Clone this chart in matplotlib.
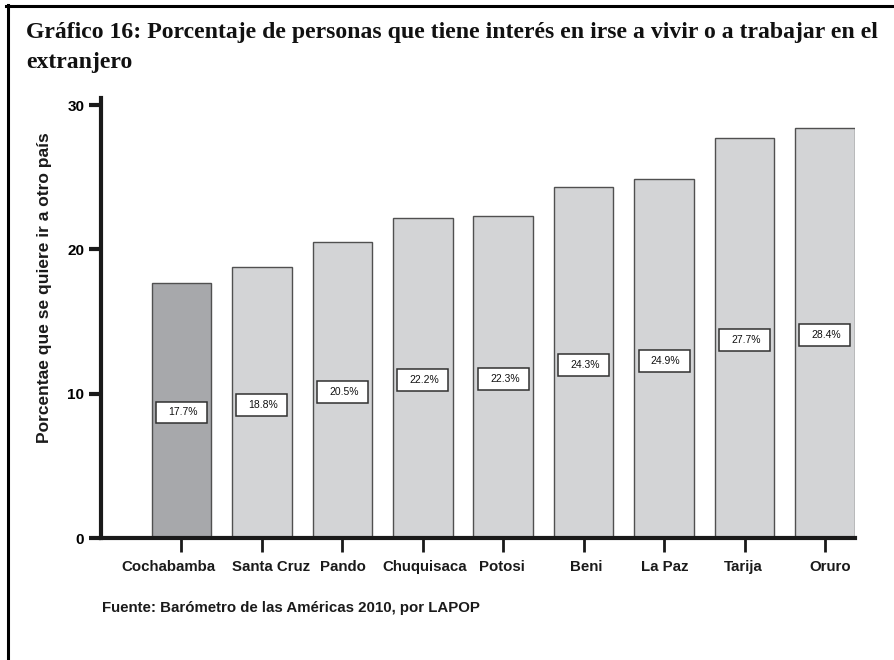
import matplotlib
matplotlib.use("Agg")
import matplotlib.pyplot as plt
from matplotlib.patches import Rectangle
from matplotlib.lines import Line2D

categories = ["Cochabamba", "Santa Cruz", "Pando", "Chuquisaca", "Potosi",
              "Beni", "La Paz", "Tarija", "Oruro"]
values = [17.7, 18.8, 20.5, 22.2, 22.3, 24.3, 24.9, 27.7, 28.4]
value_labels = ["17.7%", "18.8%", "20.5%", "22.2%", "22.3%",
                "24.3%", "24.9%", "27.7%", "28.4%"]
yticks = [0, 10, 20, 30]

title_line1 = "Gráfico 16: Porcentaje de personas que tiene interés en irse a vivir o a trabajar en el"
title_line2 = "extranjero"
ylabel = "Porcentae que se quiere ir a otro país"
source = "Fuente: Barómetro de las Américas 2010, por LAPOP"

plt.rcParams['font.family'] = ['Liberation Sans', 'DejaVu Sans']

W, H = 894, 660
fig = plt.figure(figsize=(W / 100, H / 100), dpi=100)
ax = fig.add_axes([101 / W, (H - 538) / H, (855 - 101) / W, (538 - 98) / H])

colors = ['#a7a8ab'] + ['#d3d4d6'] * (len(values) - 1)
x = list(range(len(categories)))
ax.bar(x, values, width=0.74, color=colors, edgecolor='#505050', linewidth=1.0, zorder=2)

bw, bh = 0.634, 1.52
for i, (v, lab) in enumerate(zip(values, value_labels)):
    yc = v / 2 - 0.15
    ax.add_patch(Rectangle((i - bw / 2, yc - bh / 2), bw, bh, facecolor='white',
                           edgecolor='#303030', linewidth=1.1, zorder=3))
    ax.text(i + 0.02, yc, lab, ha='center', va='center', fontsize=7.5,
            color='#111111', zorder=4)

ax.set_xlim(-1.0, 8.373)
ax.set_ylim(0, 30.5)
ax.set_yticks(yticks)
ax.set_yticklabels([str(t) for t in yticks], fontsize=11, fontweight='bold')
ax.set_xticks(x)
ax.set_xticklabels([''] * len(categories))

# category labels with small horizontal nudges (pixels), as in the original layout
label_shift_px = [-13, 9, 1, 2, -1, 3, 1, -1, 5]
for i, (cat, dx) in enumerate(zip(categories, label_shift_px)):
    ax.annotate(cat, xy=(i, 0), xycoords=('data', 'axes fraction'),
                xytext=(dx, -22), textcoords='offset pixels',
                ha='center', va='top', fontsize=10.8, fontweight='bold',
                color='#1a1a1a', annotation_clip=False)

for s in ['top', 'right']:
    ax.spines[s].set_visible(False)
for s in ['left', 'bottom']:
    ax.spines[s].set_linewidth(3)
    ax.spines[s].set_color('#1a1a1a')
ax.tick_params(axis='y', length=9, width=3, pad=3, color='#1a1a1a')
ax.tick_params(axis='x', length=10, width=2, pad=6.5, color='#1a1a1a')

fig.text(45 / W, 1 - 287.5 / H, ylabel, rotation=90, ha='center', va='center',
         fontsize=12.5, fontweight='bold', color='#1a1a1a')

serif = ['Liberation Serif', 'DejaVu Serif']
fig.text(26 / W, 1 - 38 / H, title_line1, ha='left', va='baseline', fontsize=17.1,
         fontweight='bold', family=serif, color='#111111')
fig.text(26 / W, 1 - 68 / H, title_line2, ha='left', va='baseline', fontsize=17.1,
         fontweight='bold', family=serif, color='#111111')

fig.text(102 / W, 1 - 612 / H, source, ha='left', va='baseline', fontsize=10.8,
         fontweight='bold', color='#1a1a1a')

fig.add_artist(Line2D([6 / W, 1.0], [1 - 6 / H, 1 - 6 / H], transform=fig.transFigure,
                      color='black', linewidth=2.2))
fig.add_artist(Line2D([7.5 / W, 7.5 / W], [0, 1 - 5 / H], transform=fig.transFigure,
                      color='black', linewidth=2.2))

fig.savefig("out.png", dpi=100)
